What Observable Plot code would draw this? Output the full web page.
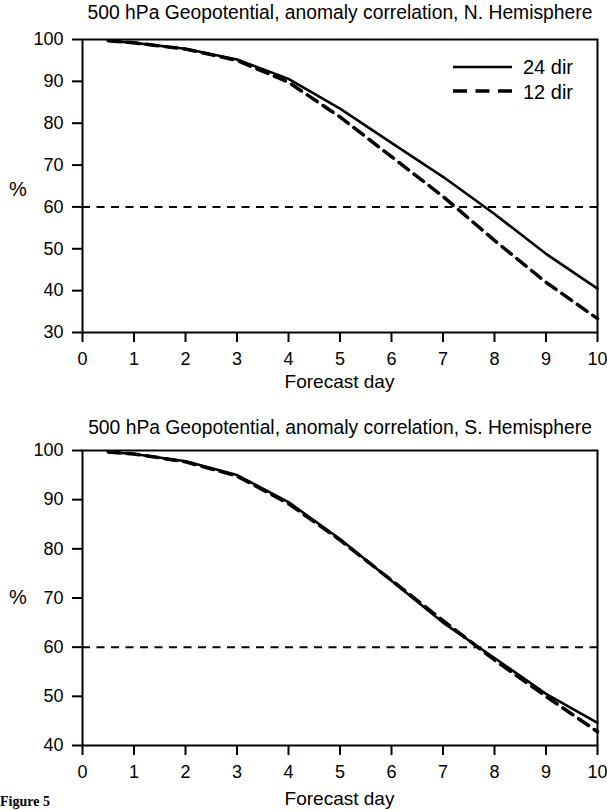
<!DOCTYPE html>
<html>
<head>
<meta charset="utf-8">
<script src="https://cdn.jsdelivr.net/npm/d3@7"></script>
<script src="https://cdn.jsdelivr.net/npm/@observablehq/plot@0.6"></script>
<style>
  html, body { margin: 0; padding: 0; background: #fff; }
  #root { position: relative; width: 607px; height: 810px; overflow: hidden; font-family: "Liberation Sans", Arial, Helvetica, sans-serif; color: #000; }
  .abs { position: absolute; white-space: nowrap; line-height: 1; }
  .title { font-size: 19.3px; width: 580px; left: 50px; text-align: center; }
  .xlabel { font-size: 19px; width: 515px; left: 82px; text-align: center; }
  .pct { font-size: 20px; left: 9px; }
  .leg { font-size: 20px; }
</style>
</head>
<body>
<div id="root"></div>
<script>
// ---- data ----
const days = [0.5, 1, 2, 3, 4, 5, 6, 7, 8, 9, 10];
const nh24 = [99.7, 99.2, 97.8, 95.2, 90.6, 83.5, 75.3, 67.2, 58.3, 48.8, 40.5];
const nh12 = [99.7, 99.2, 97.7, 95.0, 89.8, 81.5, 72.0, 62.5, 52.0, 42.0, 33.3];
const sh24 = [99.7, 99.3, 97.8, 95.0, 89.5, 82.0, 73.5, 65.0, 57.8, 50.5, 44.6];
const sh12 = [99.7, 99.3, 97.7, 94.8, 89.2, 81.8, 73.6, 65.4, 57.4, 50.0, 42.8];
const xTicks = [0, 1, 2, 3, 4, 5, 6, 7, 8, 9, 10];
const nhYTicks = [30, 40, 50, 60, 70, 80, 90, 100];
const shYTicks = [40, 50, 60, 70, 80, 90, 100];
const threshold = [60];
const seriesNames = ["24 dir", "12 dir"];
const titles = [
  "500 hPa Geopotential, anomaly correlation, N. Hemisphere",
  "500 hPa Geopotential, anomaly correlation, S. Hemisphere"
];

const root = document.getElementById("root");

function makePanel(v24, v12, yDomain, yTicks, height, mTop, mBottom) {
  const d24 = days.map((d, i) => ({day: d, v: v24[i]}));
  const d12 = days.map((d, i) => ({day: d, v: v12[i]}));
  return Plot.plot({
    width: 607,
    height: height,
    marginLeft: 82,
    marginRight: 10,
    marginTop: mTop,
    marginBottom: mBottom,
    style: {fontFamily: '"Liberation Sans", Arial, Helvetica, sans-serif', fontSize: "18px", color: "#000", background: "transparent", overflow: "visible"},
    x: {domain: [0, 10]},
    y: {domain: yDomain},
    marks: [
      Plot.ruleY(threshold, {stroke: "#000", strokeWidth: 2, strokeDasharray: "8,6.5"}),
      Plot.line(d12, {x: "day", y: "v", stroke: "#000", strokeWidth: 3.5, strokeDasharray: "12,7"}),
      Plot.line(d24, {x: "day", y: "v", stroke: "#000", strokeWidth: 2.6}),
      Plot.frame({stroke: "#000", strokeWidth: 2}),
      Plot.axisX({ticks: xTicks, tickSize: 10, tickPadding: 10, strokeWidth: 2, fontSize: 18, label: null, tickFormat: d3.format("d")}),
      Plot.axisY({ticks: yTicks, tickSize: 10, tickPadding: 9, strokeWidth: 2, fontSize: 18, label: null, tickFormat: d3.format("d")})
    ]
  });
}

function place(el, top) {
  el.style.position = "absolute";
  el.style.left = "0px";
  el.style.top = top + "px";
  root.appendChild(el);
}

// top panel: y=100 at 39px, y=30 at 332px
place(makePanel(nh24, nh12, [30, 100], nhYTicks, 400, 39, 68), 0);
// bottom panel: y=100 at 450px, y=40 at 745px
place(makePanel(sh24, sh12, [40, 100], shYTicks, 410, 50, 65), 400);

function addText(cls, text, left, top, extra) {
  const d = document.createElement("div");
  d.className = "abs " + cls;
  d.textContent = text;
  if (left !== null) d.style.left = left + "px";
  d.style.top = top + "px";
  if (extra) Object.assign(d.style, extra);
  root.appendChild(d);
  return d;
}

addText("title", titles[0], null, 3);
addText("title", titles[1], null, 418);
addText("xlabel", "Forecast day", null, 372);
addText("xlabel", "Forecast day", null, 789);
addText("pct", "%", 9, 179);
addText("pct", "%", 9, 587);
addText("", "Figure 5", 0, 795, {fontFamily: '"Liberation Serif", "Times New Roman", serif', fontWeight: "bold", fontSize: "14px"});

// legend (top panel)
const ns = "http://www.w3.org/2000/svg";
const leg = document.createElementNS(ns, "svg");
leg.setAttribute("width", "70");
leg.setAttribute("height", "40");
leg.style.position = "absolute";
leg.style.left = "450px";
leg.style.top = "57px";
[[0, "none", 2.6], [24, "14,8.5", 3.5]].forEach(([dy, dash, sw]) => {
  const l = document.createElementNS(ns, "line");
  l.setAttribute("x1", 3); l.setAttribute("x2", 62);
  l.setAttribute("y1", 10 + dy); l.setAttribute("y2", 10 + dy);
  l.setAttribute("stroke", "#000");
  l.setAttribute("stroke-width", sw);
  if (dash !== "none") l.setAttribute("stroke-dasharray", dash);
  leg.appendChild(l);
});
root.appendChild(leg);
addText("leg", seriesNames[0], 523, 57);
addText("leg", seriesNames[1], 523, 82);
</script>
</body>
</html>
